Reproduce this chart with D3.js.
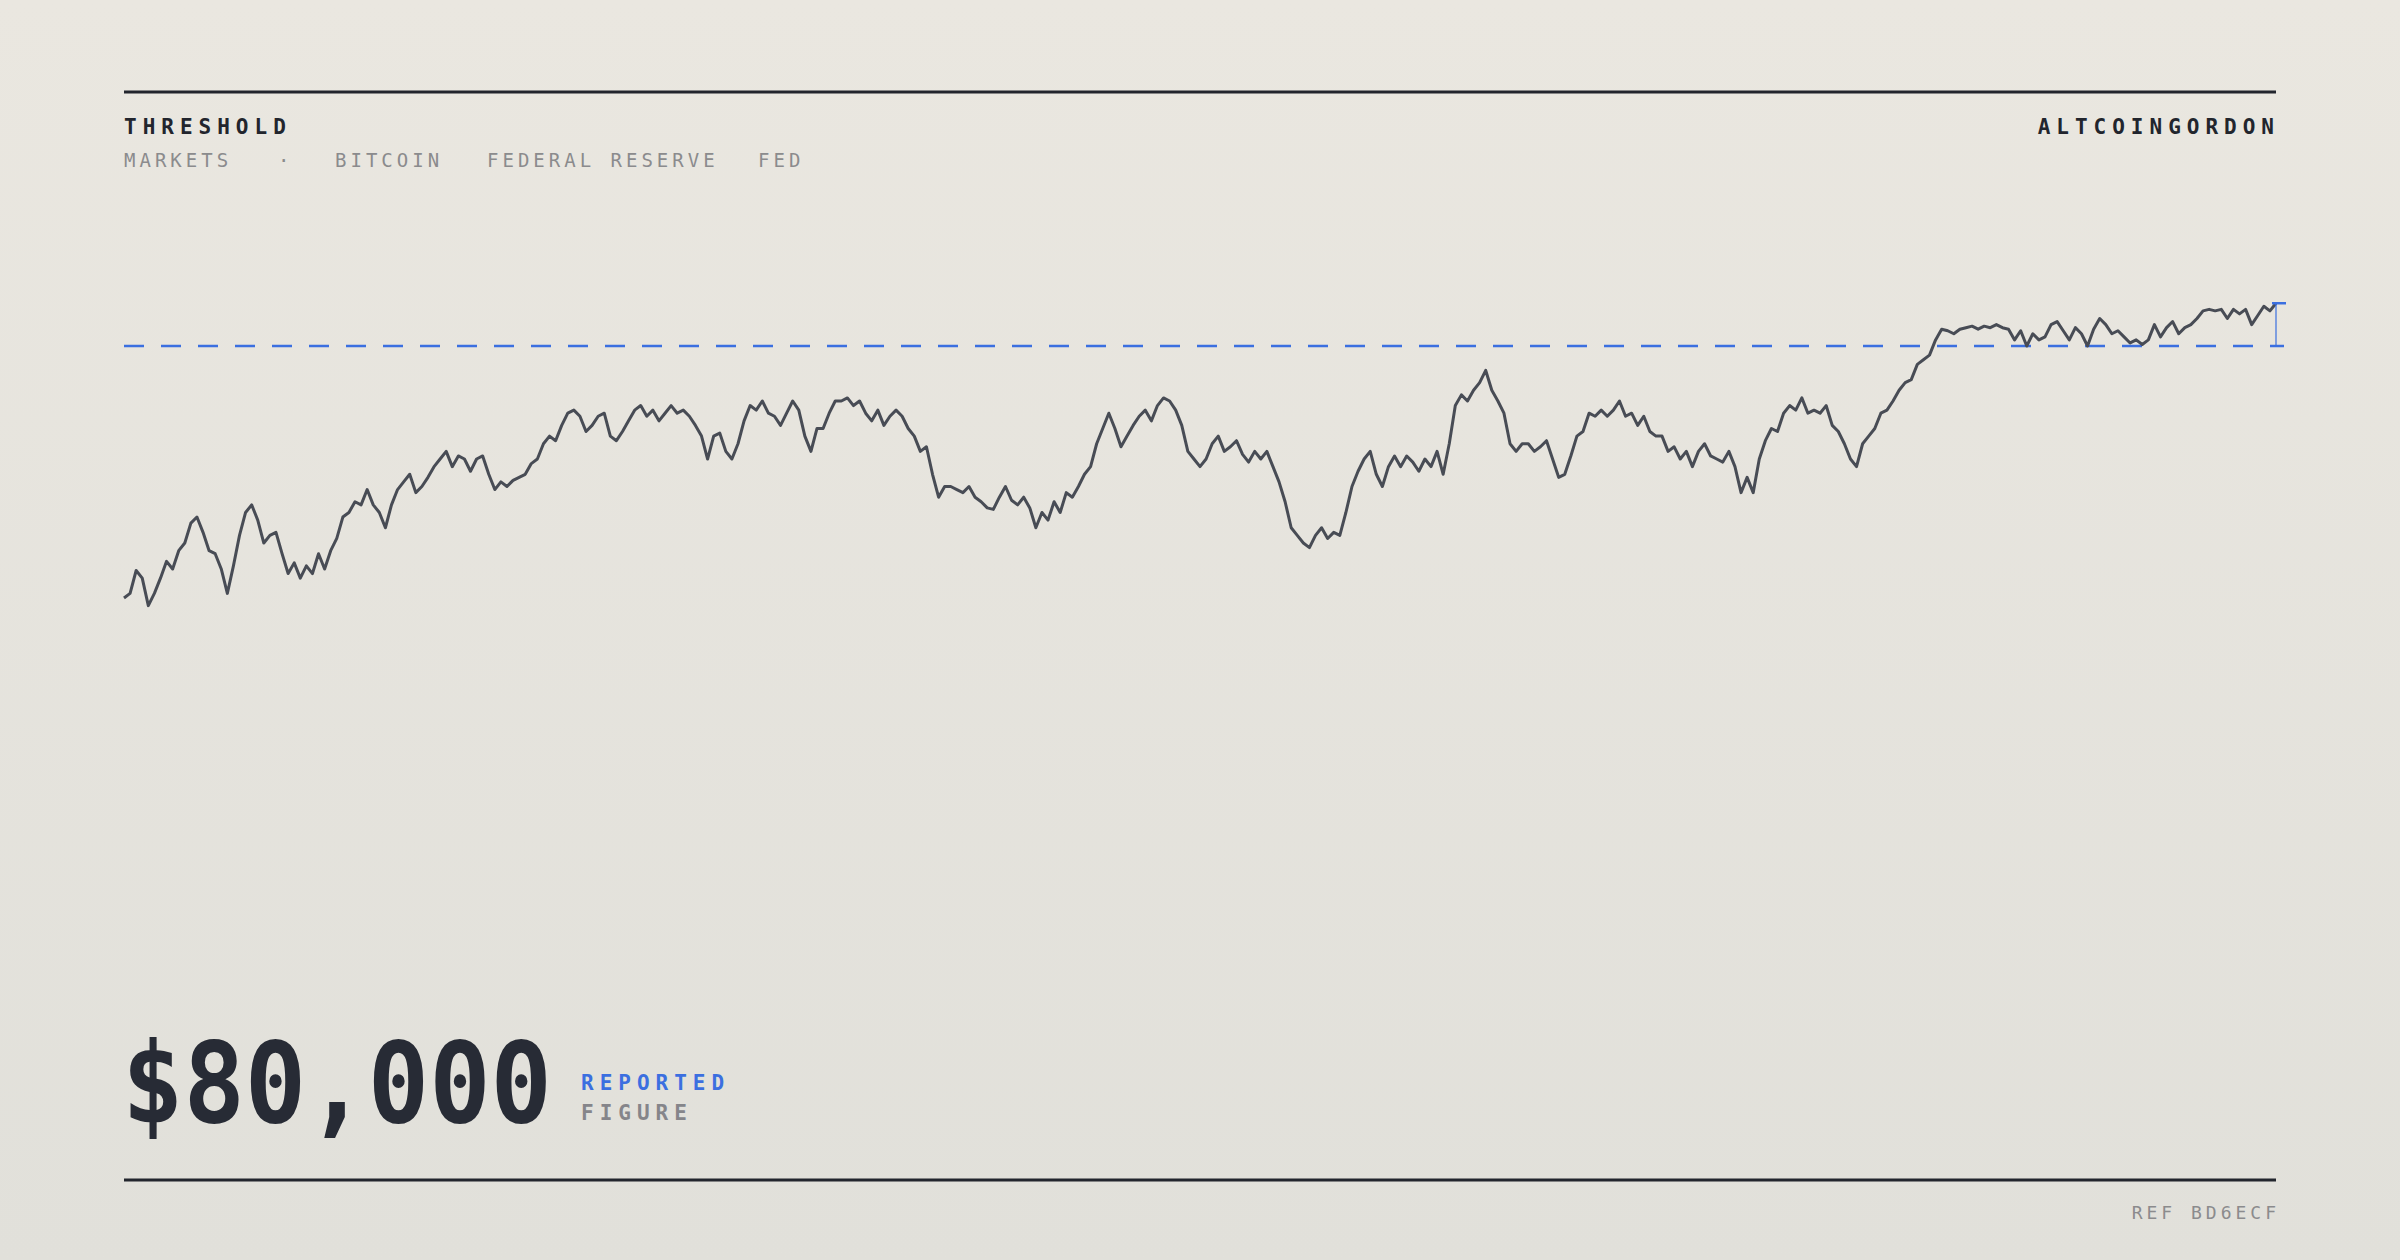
<!DOCTYPE html>
<html><head><meta charset="utf-8">
<script src="https://cdn.jsdelivr.net/npm/d3@7"></script>
<style>
body{margin:0;background:#e7e5df}
svg{display:block}
</style></head>
<body>
<svg id="chart" width="2400" height="1260"></svg>
<script>
var title = "THRESHOLD"
var brand = "ALTCOINGORDON"
var tags = ["MARKETS", "·", "BITCOIN", "FEDERAL RESERVE", "FED"]
var threshold = 80000
var headline = "$80,000"
var ref = "REF BD6ECF"

var price = [63500,63800,65300,64800,63000,63800,64800,65900,65400,66600,67100,68400,68800,67800,66600,66400,65400,63800,65600,67600,
69100,69600,68600,67100,67600,67800,66400,65100,65800,64800,65600,65100,66400,65400,66600,67400,68800,69100,69800,69600,
70600,69600,69100,68100,69600,70600,71100,71600,70400,70800,71400,72100,72600,73100,72100,72800,72600,71800,72600,72800,
71600,70600,71100,70800,71200,71400,71600,72300,72600,73600,74100,73800,74800,75600,75800,75400,74400,74800,75400,75600,
74100,73800,74400,75100,75800,76100,75400,75800,75100,75600,76100,75600,75800,75400,74800,74100,72600,74100,74300,73100,
72600,73600,75100,76100,75800,76400,75600,75400,74800,75600,76400,75800,74100,73100,74600,74600,75600,76400,76400,76600,
76100,76400,75600,75100,75800,74800,75400,75800,75400,74600,74100,73100,73400,71600,70100,70800,70800,70600,70400,70800,
70100,69800,69400,69300,70100,70800,69900,69600,70100,69400,68100,69100,68600,69800,69100,70400,70100,70800,71600,72100,
73600,74600,75600,74600,73400,74100,74800,75400,75800,75100,76100,76600,76400,75800,74800,73100,72600,72100,72600,73600,
74100,73100,73400,73800,72900,72400,73100,72600,73100,72100,71100,69800,68100,67600,67100,66800,67600,68100,67400,67800,
67600,69100,70800,71800,72600,73100,71600,70800,72100,72800,72100,72800,72400,71800,72600,72100,73100,71600,73600,76100,
76800,76400,77100,77600,78400,77100,76400,75600,73600,73100,73600,73600,73100,73400,73800,72600,71400,71600,72800,74100,
74400,75600,75400,75800,75400,75800,76400,75400,75600,74800,75400,74400,74100,74100,73100,73400,72600,73100,72100,73100,
73600,72800,72600,72400,73100,72100,70400,71400,70400,72600,73800,74600,74400,75600,76100,75800,76600,75600,75800,75600,
76100,74800,74400,73600,72600,72100,73600,74100,74600,75600,75800,76400,77100,77600,77800,78800,79100,79400,80400,81100,
81000,80800,81100,81200,81300,81100,81300,81200,81400,81200,81100,80400,81000,80000,80800,80400,80600,81400,81600,81000,
80400,81200,80800,80000,81100,81800,81400,80800,81000,80600,80200,80400,80100,80400,81400,80600,81200,81600,80800,81200,
81400,81800,82300,82400,82300,82400,81800,82400,82100,82400,81400,82000,82600,82300,82800]

var svg = d3.select("#chart")
var W = 2400, H = 1260
var left = 124, right = 2276

var defs = svg.append("defs")
var grad = defs.append("linearGradient").attr("id", "bg").attr("x1", 0).attr("y1", 0).attr("x2", 0).attr("y2", 1)
grad.append("stop").attr("offset", "0%").attr("stop-color", "#eae7e0")
grad.append("stop").attr("offset", "100%").attr("stop-color", "#e1e0da")
svg.append("rect").attr("width", W).attr("height", H).attr("fill", "url(#bg)")

// rules
svg.append("line").attr("x1", left).attr("x2", right).attr("y1", 92).attr("y2", 92)
   .attr("stroke", "#22252d").attr("stroke-width", 3)
svg.append("line").attr("x1", left).attr("x2", right).attr("y1", 1180).attr("y2", 1180)
   .attr("stroke", "#22252d").attr("stroke-width", 3)

var mono = "'DejaVu Sans Mono', 'Liberation Mono', monospace"

svg.append("text").attr("x", left).attr("y", 134).text(title)
   .attr("font-family", mono).attr("font-size", 21).attr("font-weight", "bold")
   .attr("letter-spacing", "6px").attr("fill", "#22252d")
svg.append("text").attr("x", right + 4).attr("y", 134).text(brand)
   .attr("text-anchor", "end")
   .attr("font-family", mono).attr("font-size", 21).attr("font-weight", "bold")
   .attr("letter-spacing", "6px").attr("fill", "#22252d")

var tagX = [124, 278, 335, 487, 758]
svg.append("g").selectAll("text").data(tags).enter().append("text")
   .attr("x", function(d, i){ return tagX[i] })
   .attr("y", 167)
   .text(function(d){ return d })
   .attr("font-family", mono).attr("font-size", 19)
   .attr("letter-spacing", "4px").attr("fill", "#8b8b8d")

// scales
var x = d3.scaleLinear().domain([0, price.length - 1]).range([left, right])
var y = d3.scaleLinear().domain([63500, 80000]).range([598, 346])

svg.append("line").attr("x1", left).attr("x2", right + 8)
   .attr("y1", y(threshold)).attr("y2", y(threshold))
   .attr("stroke", "#3b6fe0").attr("stroke-width", 2.5)
   .attr("stroke-dasharray", "20,17")

var line = d3.line().x(function(d, i){ return x(i) }).y(function(d){ return y(d) })
svg.append("path").datum(price).attr("d", line)
   .attr("fill", "none").attr("stroke", "#484c55").attr("stroke-width", 3)
   .attr("stroke-linejoin", "round")

var last = price[price.length - 1]
var mk = svg.append("g").attr("stroke", "#3b6fe0")
mk.append("line").attr("x1", right).attr("x2", right).attr("y1", y(last)).attr("y2", y(threshold))
  .attr("stroke-width", 1.5).attr("opacity", 0.8)
mk.append("line").attr("x1", right - 4).attr("x2", right + 10).attr("y1", y(last)).attr("y2", y(last))
  .attr("stroke-width", 2.5)

// headline
svg.append("text").attr("x", left - 2).attr("y", 1122).text(headline)
   .attr("font-family", mono).attr("font-size", 112).attr("font-weight", "bold")
   .attr("textLength", 430).attr("lengthAdjust", "spacingAndGlyphs")
   .attr("fill", "#272b35")
svg.append("text").attr("x", 581).attr("y", 1090).text("REPORTED")
   .attr("font-family", mono).attr("font-size", 21).attr("font-weight", "bold")
   .attr("letter-spacing", "6px").attr("fill", "#3b6fe0")
svg.append("text").attr("x", 581).attr("y", 1120).text("FIGURE")
   .attr("font-family", mono).attr("font-size", 21).attr("font-weight", "bold")
   .attr("letter-spacing", "6px").attr("fill", "#85858a")

svg.append("text").attr("x", right + 4).attr("y", 1219).text(ref)
   .attr("text-anchor", "end")
   .attr("font-family", mono).attr("font-size", 18)
   .attr("letter-spacing", "4px").attr("fill", "#8b8b8d")
</script>
</body></html>
